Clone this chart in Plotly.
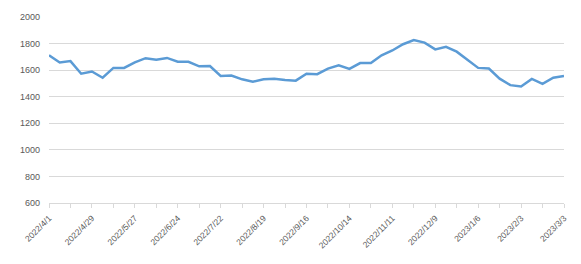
import pandas as pd
import plotly.graph_objects as go

dates = [d.strftime("%Y/") + str(d.month) + "/" + str(d.day)
         for d in pd.date_range("2022-04-01", periods=49, freq="7D")]
values = [1712, 1658, 1668, 1573, 1590, 1543, 1617, 1617, 1658, 1690,
          1678, 1692, 1663, 1663, 1629, 1631, 1556, 1560, 1531, 1512,
          1531, 1536, 1526, 1521, 1573, 1570, 1612, 1636, 1609, 1653,
          1653, 1712, 1748, 1795, 1827, 1807, 1756, 1775, 1739, 1675,
          1617, 1612, 1536, 1487, 1477, 1534, 1497, 1543, 1556]
y_ticks = [600, 800, 1000, 1200, 1400, 1600, 1800, 2000]

idx = list(range(len(dates)))
tickvals = idx[::2]
ticktext = [dates[i] if i % 4 == 0 else "" for i in tickvals]

fig = go.Figure(go.Scatter(x=idx, y=values, mode="lines",
                           line=dict(color="#5B9BD5", width=2.5),
                           hoverinfo="skip"))
fig.update_layout(
    width=581, height=264,
    margin=dict(l=49, r=16, t=12, b=61),
    paper_bgcolor="white", plot_bgcolor="white",
    showlegend=False,
    font=dict(family="Liberation Sans", size=9, color="#595959"),
)
fig.update_xaxes(range=[0, len(dates) - 1], tickmode="array",
                 tickvals=tickvals, ticktext=ticktext, tickangle=-45,
                 showgrid=False, zeroline=False, showline=True,
                 linecolor="#d9d9d9", linewidth=1,
                 ticks="outside", ticklen=4, tickcolor="#d9d9d9",
                 ticklabelstandoff=2,
                 tickfont=dict(size=8.5, color="#595959"))
fig.update_yaxes(range=[600, 2000], tickvals=y_ticks,
                 showgrid=True, gridcolor="#d9d9d9", gridwidth=1,
                 zeroline=False, showline=False, ticks="", ticklen=0,
                 ticklabelstandoff=8,
                 tickfont=dict(size=9, color="#595959"))
fig.write_html("out.html")
